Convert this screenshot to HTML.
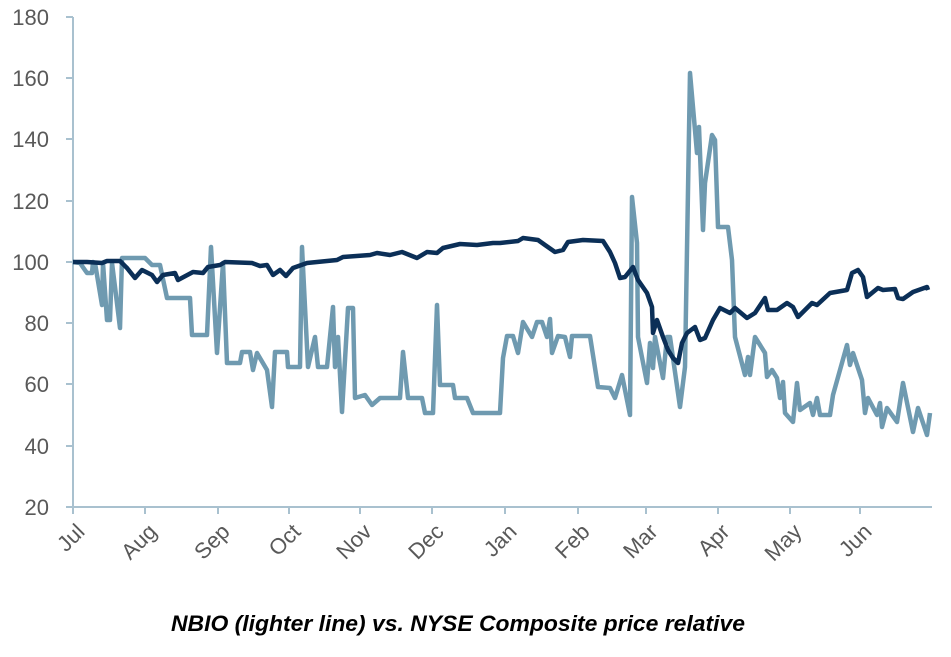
<!DOCTYPE html>
<html><head><meta charset="utf-8"><style>body{margin:0;background:#fff}svg{display:block}</style></head><body>
<svg width="951" height="657" viewBox="0 0 951 657" xmlns="http://www.w3.org/2000/svg" font-family="'Liberation Sans', sans-serif">
<g stroke="#a9c1cf" stroke-width="2">
<line x1="73" y1="17" x2="73" y2="507"/>
<line x1="73" y1="507" x2="932" y2="507"/>
<line x1="66" y1="17" x2="73" y2="17"/><line x1="66" y1="78" x2="73" y2="78"/><line x1="66" y1="139" x2="73" y2="139"/><line x1="66" y1="201" x2="73" y2="201"/><line x1="66" y1="262" x2="73" y2="262"/><line x1="66" y1="323" x2="73" y2="323"/><line x1="66" y1="384" x2="73" y2="384"/><line x1="66" y1="446" x2="73" y2="446"/><line x1="66" y1="507" x2="73" y2="507"/>
<line x1="73" y1="507" x2="73" y2="514"/><line x1="145" y1="507" x2="145" y2="514"/><line x1="218" y1="507" x2="218" y2="514"/><line x1="289" y1="507" x2="289" y2="514"/><line x1="360" y1="507" x2="360" y2="514"/><line x1="432" y1="507" x2="432" y2="514"/><line x1="505" y1="507" x2="505" y2="514"/><line x1="578" y1="507" x2="578" y2="514"/><line x1="646" y1="507" x2="646" y2="514"/><line x1="718" y1="507" x2="718" y2="514"/><line x1="790" y1="507" x2="790" y2="514"/><line x1="860" y1="507" x2="860" y2="514"/>
</g>
<g fill="#595959" font-size="22" text-anchor="end">
<text x="49" y="25">180</text><text x="49" y="86">160</text><text x="49" y="147">140</text><text x="49" y="209">120</text><text x="49" y="270">100</text><text x="49" y="331">80</text><text x="49" y="392">60</text><text x="49" y="454">40</text><text x="49" y="515">20</text>
</g>
<g fill="#595959" font-size="22" text-anchor="end">
<text transform="translate(86,533) rotate(-45)">Jul</text>
<text transform="translate(158,533) rotate(-45)">Aug</text>
<text transform="translate(231,533) rotate(-45)">Sep</text>
<text transform="translate(302,533) rotate(-45)">Oct</text>
<text transform="translate(373,533) rotate(-45)">Nov</text>
<text transform="translate(445,533) rotate(-45)">Dec</text>
<text transform="translate(518,533) rotate(-45)">Jan</text>
<text transform="translate(591,533) rotate(-45)">Feb</text>
<text transform="translate(659,533) rotate(-45)">Mar</text>
<text transform="translate(731,533) rotate(-45)">Apr</text>
<text transform="translate(803,533) rotate(-45)">May</text>
<text transform="translate(873,533) rotate(-45)">Jun</text>
</g>
<polyline fill="none" stroke="#6f9ab0" stroke-width="4.5" stroke-linejoin="round" points="73,262 80,263 87,273 92,273 93,262 95,263 102,305 103,263 107,320 110,320 112,263 115,287 120,328 122,258 145,258 152,265 160,265 167,298 190,298 192,335 207,335 211,247 217,353 223,263 227,363 240,363 242,352 250,352 253,370 257,353 267,370 272,407 275,352 287,352 288,367 300,367 302,247 305,307 308,367 315,337 318,367 327,367 333,307 335,367 338,337 342,412 348,308 353,308 355,398 365,395 372,405 380,398 400,398 403,352 408,398 422,398 425,413 433,413 437,305 440,385 453,385 455,398 467,398 473,413 500,413 503,358 507,336 513,336 518,353 523,322 532,337 537,322 542,322 547,337 550,319 552,353 558,336 565,337 570,357 572,336 590,336 598,387 610,388 615,398 622,375 630,415 632,197 637,243 638,337 647,383 650,343 653,368 655,337 663,378 667,337 670,337 680,407 685,367 690,73 697,153 699,127 703,230 705,183 712,135 715,140 718,227 728,227 732,260 735,337 745,375 748,357 750,375 755,337 765,353 767,377 772,370 777,378 780,398 783,382 785,413 793,422 797,383 800,410 810,403 813,415 817,398 820,415 830,415 833,395 847,345 850,365 853,353 862,380 865,413 868,398 877,415 880,403 882,427 887,408 897,422 903,383 913,432 918,408 927,435 930,413"/>
<polyline fill="none" stroke="#0b2f57" stroke-width="4.5" stroke-linejoin="round" points="73,262 87,262 102,263 107,261 120,261 127,268 135,278 142,270 152,275 157,282 163,275 175,273 178,280 193,272 203,273 208,267 220,265 225,262 252,263 260,266 267,265 273,275 280,270 286,276 293,268 307,263 337,260 343,257 370,255 377,253 390,255 402,252 417,258 427,252 437,253 443,248 460,244 477,245 493,243 500,243 518,241 523,238 538,240 545,245 555,252 563,250 568,242 583,240 603,241 610,252 615,263 620,278 625,277 633,267 638,280 647,293 652,307 653,333 657,320 663,337 668,350 673,358 678,363 682,343 687,333 695,327 700,340 705,338 713,320 720,308 730,313 735,308 747,318 755,313 765,298 768,310 777,310 787,303 793,307 798,317 812,303 817,305 830,293 847,290 852,273 858,270 863,277 867,297 878,288 883,290 895,289 898,298 903,299 913,292 927,287 928,290"/>
<text x="458" y="631" text-anchor="middle" font-size="22" font-weight="bold" font-style="italic" fill="#000" textLength="574" lengthAdjust="spacingAndGlyphs">NBIO (lighter line) vs. NYSE Composite price relative</text>
</svg>
</body></html>
